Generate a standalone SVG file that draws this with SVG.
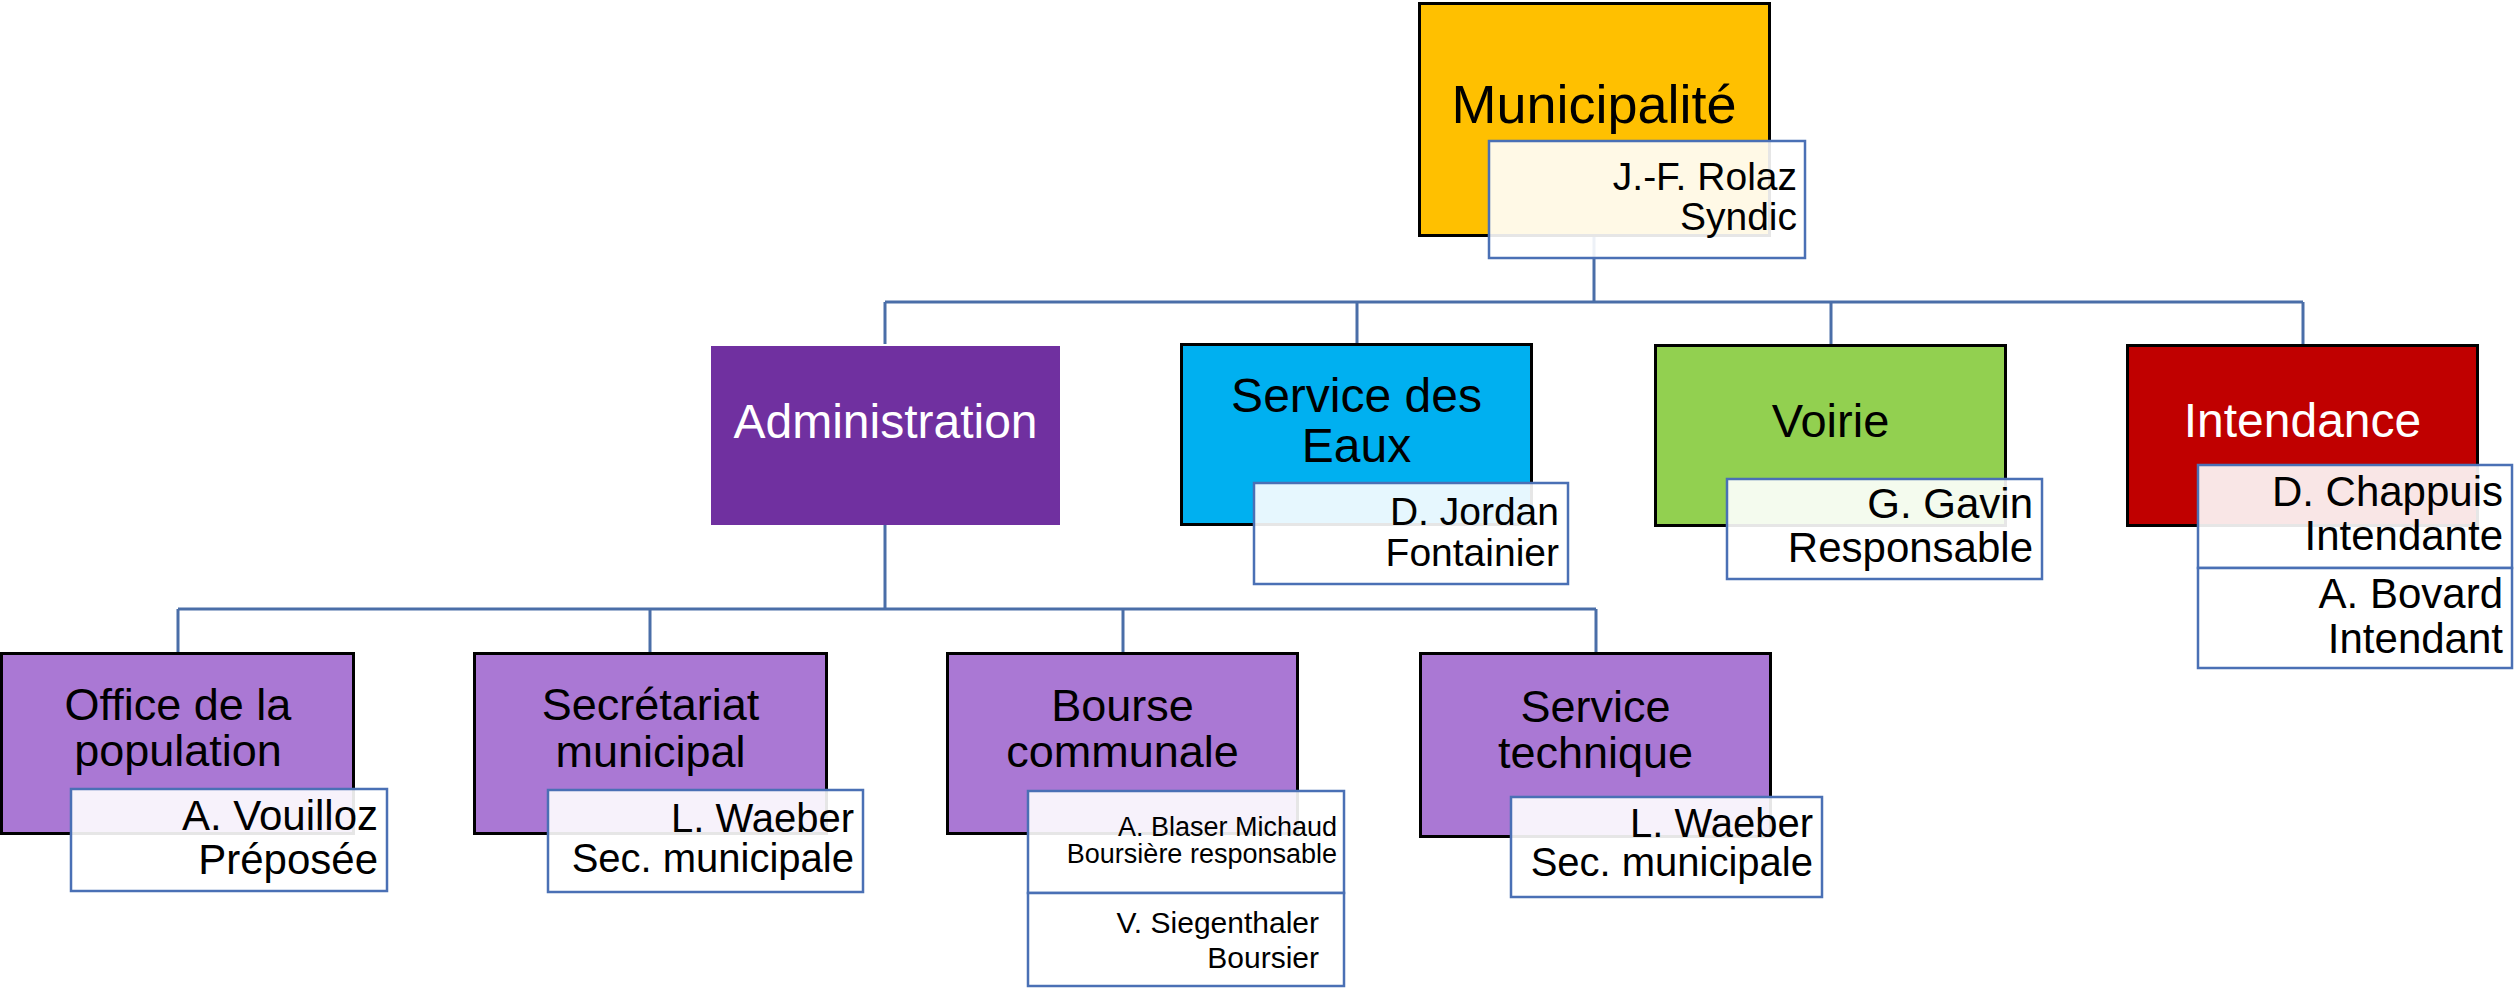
<svg xmlns="http://www.w3.org/2000/svg" width="2515" height="989" viewBox="0 0 2515 989">
<style>
text{font-family:"Liberation Sans",Arial,sans-serif;fill:#000}
.box{stroke:#000;stroke-width:3}
.p{fill:#fff;fill-opacity:0.9;stroke:#4a70b5;stroke-width:2.5}
.con{fill:none;stroke:#4a6ea8;stroke-width:3}
.t48{font-size:48px;text-anchor:middle}
.t45{font-size:45px;text-anchor:middle}
.r{text-anchor:end}
.w{fill:#fff}
</style>
<rect width="2515" height="989" fill="#fff"/>
<g id="connectors" class="con">
<path d="M1594 237V302M885 302H2303M885 302V344M1357 302V344M1831 302V344M2303 302V344"/>
<path d="M885 525V609M178 609H1596M178 609V652M650 609V652M1123 609V652M1596 609V652"/>
</g>
<g id="municipalite">
<rect class="box" x="1419.5" y="3.5" width="350" height="232" fill="#ffc000"/>
<text x="1594" y="123" font-size="54" text-anchor="middle">Municipalité</text>
<rect class="p" x="1489" y="141" width="316" height="117"/>
<text class="r" x="1797" y="190" font-size="39">J.-F. Rolaz</text>
<text class="r" x="1797" y="230" font-size="39">Syndic</text>
</g>
<g id="administration">
<rect x="711" y="346" width="349" height="179" fill="#7030a0"/>
<text class="t48 w" x="885.5" y="438">Administration</text>
</g>
<g id="eaux">
<rect class="box" x="1181.5" y="344.5" width="350" height="180" fill="#00b0f0"/>
<text class="t48" x="1356.5" y="412">Service des</text>
<text class="t48" x="1356.5" y="462">Eaux</text>
<rect class="p" x="1254" y="483" width="314" height="101"/>
<text class="r" x="1559" y="525" font-size="39">D. Jordan</text>
<text class="r" x="1559" y="566" font-size="39">Fontainier</text>
</g>
<g id="voirie">
<rect class="box" x="1655.5" y="345.5" width="350" height="180" fill="#92d050"/>
<text x="1830.5" y="437" font-size="47" text-anchor="middle">Voirie</text>
<rect class="p" x="1727" y="479" width="315" height="100"/>
<text class="r" x="2033" y="518" font-size="42">G. Gavin</text>
<text class="r" x="2033" y="562" font-size="42">Responsable</text>
</g>
<g id="intendance">
<rect class="box" x="2127.5" y="345.5" width="350" height="180" fill="#c00000"/>
<text class="t48 w" x="2302.5" y="437">Intendance</text>
<rect class="p" x="2198" y="465" width="314" height="103"/>
<text class="r" x="2503" y="506" font-size="42">D. Chappuis</text>
<text class="r" x="2503" y="550" font-size="42">Intendante</text>
<rect class="p" x="2198" y="568" width="314" height="100"/>
<text class="r" x="2503" y="608" font-size="42">A. Bovard</text>
<text class="r" x="2503" y="653" font-size="42">Intendant</text>
</g>
<g id="office">
<rect class="box" x="1.5" y="653.5" width="352" height="180" fill="#aa78d4"/>
<text class="t45" x="178" y="720">Office de la</text>
<text class="t45" x="178" y="766">population</text>
<rect class="p" x="71" y="789" width="316" height="102"/>
<text class="r" x="378" y="830" font-size="42">A. Vouilloz</text>
<text class="r" x="378" y="874" font-size="42">Préposée</text>
</g>
<g id="secretariat">
<rect class="box" x="474.5" y="653.5" width="352" height="180" fill="#aa78d4"/>
<text class="t45" x="650.5" y="720">Secrétariat</text>
<text class="t45" x="650.5" y="767">municipal</text>
<rect class="p" x="548" y="790" width="315" height="102"/>
<text class="r" x="854" y="832" font-size="40">L. Waeber</text>
<text class="r" x="854" y="872" font-size="40">Sec. municipale</text>
</g>
<g id="bourse">
<rect class="box" x="947.5" y="653.5" width="350" height="180" fill="#aa78d4"/>
<text class="t45" x="1122.5" y="721">Bourse</text>
<text class="t45" x="1122.5" y="767">communale</text>
<rect class="p" x="1028" y="791" width="316" height="102"/>
<text class="r" x="1337" y="836" font-size="27">A. Blaser Michaud</text>
<text class="r" x="1337" y="863" font-size="27">Boursière responsable</text>
<rect class="p" x="1028" y="893" width="316" height="93"/>
<text class="r" x="1319" y="933" font-size="30">V. Siegenthaler</text>
<text class="r" x="1319" y="968" font-size="30">Boursier</text>
</g>
<g id="service-technique">
<rect class="box" x="1420.5" y="653.5" width="350" height="183" fill="#aa78d4"/>
<text class="t45" x="1595.5" y="722">Service</text>
<text class="t45" x="1595.5" y="768">technique</text>
<rect class="p" x="1511" y="797" width="311" height="100"/>
<text class="r" x="1813" y="837" font-size="40">L. Waeber</text>
<text class="r" x="1813" y="876" font-size="40">Sec. municipale</text>
</g>
</svg>
